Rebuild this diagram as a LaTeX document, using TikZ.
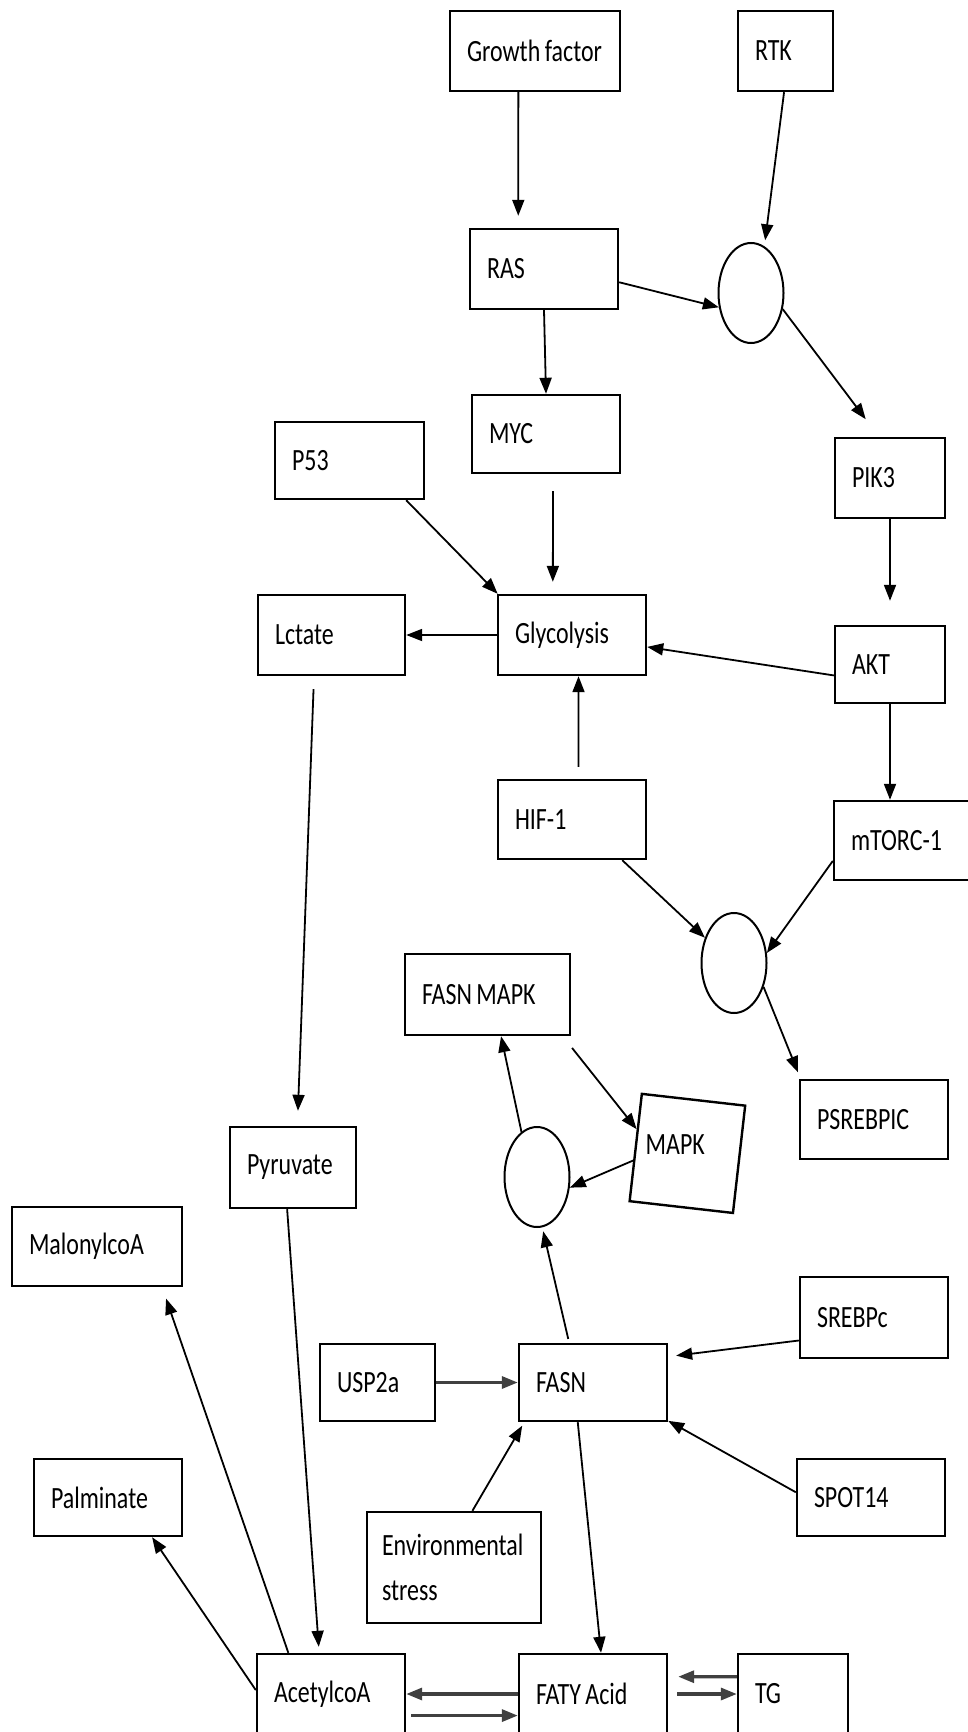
\documentclass[tikz,border=0pt]{standalone}
\usepackage{fontspec}
\setmainfont{Carlito}[FakeStretch=0.774]
\usetikzlibrary{shapes.geometric,arrows.meta}
\newcommand\boxfont{\fontsize{8.8}{12.8}\selectfont}
\newcommand\tightspace{\spaceskip=0.45mm\relax\xspaceskip=0.45mm\relax\hyphenpenalty=10000\relax}
\tikzset{
  box/.style={draw, line width=0.24mm, inner xsep=1.7mm, inner ysep=0mm, minimum height=8mm, align=left, text=black, execute at begin node=\tightspace},
  knot/.style={draw, ellipse, line width=0.2mm, minimum width=6.5mm, minimum height=10mm, inner sep=0mm},
  link/.style={line width=0.18mm},
  twin/.style={line width=0.32mm, black!75},
}

\begin{document}
\begin{tikzpicture}[>={Triangle[length=1.6mm,width=1.2mm]}, font=\boxfont]
            \fill[white] (0,0) rectangle (9.67,-17.32);
            \useasboundingbox (0,0) rectangle (9.67,-17.32);

            \node[box, text width=13.6mm] (gf) at (5.35,-0.51) {Growth factor};
            \node[box, text width=6.1mm] (rtk) at (7.855,-0.51) {RTK};
            \node[box, text width=11.4mm] (ras) at (5.44,-2.69) {RAS};
            \node[knot] (c1) at (7.51,-2.93) {};
            \node[box, text width=11.4mm, minimum height=7.8mm] (myc) at (5.46,-4.34) {MYC};
            \node[box, text width=11.5mm, minimum height=7.7mm] (p53) at (3.495,-4.605) {P53};
            \node[box, text width=7.6mm] (pik3) at (8.90,-4.78) {PIK3};

            \node[box, text width=11.3mm] (lctate) at (3.315,-6.35) {Lctate};
            \node[box, text width=11.4mm] (glyc) at (5.72,-6.35) {Glycolysis};
            \node[box, text width=7.6mm, minimum height=7.7mm] (akt) at (8.90,-6.645) {AKT};
            \node[box, text width=11.4mm, minimum height=7.9mm] (hif) at (5.72,-8.195) {HIF-1};
            \node[box, text width=11.6mm, minimum height=7.9mm] (mtorc) at (9.09,-8.405) {mTORC-1};
            \node[knot] (c2) at (7.34,-9.63) {};

            \node[box, text width=13.1mm, minimum height=8.1mm] (fasnmapk) at (4.875,-9.945) {FASN MAPK};
            \node[box, text width=11.4mm, minimum height=7.9mm] (psrebpic) at (8.74,-11.195) {PSREBPIC};
            \node[box, rotate=-6.5, minimum width=10.4mm, minimum height=10.8mm, inner sep=0mm] (mapk) at (6.874,-11.534) {};
            \node[anchor=west, inner sep=0mm, text=black] (mapktxt) at (6.45,-11.45) {MAPK};
            \node[knot] (c3) at (5.37,-11.77) {};
            \node[box, text width=9.2mm, minimum height=8.1mm] (pyruvate) at (2.93,-11.675) {Pyruvate};
            \node[box, text width=13.6mm, minimum height=7.9mm] (malonyl) at (0.97,-12.465) {MalonylcoA};

            \node[box, text width=11.4mm, minimum height=8.1mm] (srebpc) at (8.74,-13.175) {SREBPc};
            \node[box, text width=8.1mm, minimum height=7.7mm] (usp2a) at (3.775,-13.825) {USP2a};
            \node[box, text width=11.4mm, minimum height=7.7mm] (fasn) at (5.93,-13.825) {FASN};
            \node[box, text width=11.4mm, minimum height=7.7mm] (palminate) at (1.08,-14.975) {Palminate};
            \node[box, text width=11.4mm, minimum height=7.7mm] (spot14) at (8.71,-14.975) {SPOT14};
            \node[box, inner xsep=1.5mm, text width=14.4mm, minimum height=11.1mm] (env) at (4.54,-15.675) {Environmental\\stress};

            \node[box, text width=11.4mm] (acetyl) at (3.31,-16.94) {AcetylcoA};
            \node[box, text width=11.4mm] (faty) at (5.93,-16.94) {FATY Acid};
            \node[box, text width=7.6mm] (tg) at (7.93,-16.94) {TG};

            \path[->, link] (gf.-112) edge[shorten >=1.2mm] (ras.122);
            \path[->, link] (rtk.-92) edge[shorten >=0.6mm] (c1.74);
            \path[->, link] (ras.south) edge (myc.north);
            \path[->, link] (ras.-10) edge (c1.204);
            \path[->, link] (c1.-27) edge[shorten >=2.2mm] (pik3.105);

            \path[->, link] (p53.-35) edge (glyc.151);
            \path[->, link] (myc.-80) edge[shorten <=1.7mm, shorten >=1.2mm] (glyc.115);
            \path[->, link] (glyc.west) edge (lctate.east);
            \path[->, link] (akt.191) edge (glyc.-9);
            \path[->, link] (pik3.south) edge[shorten >=2.4mm] (akt.north);
            \path[->, link] (hif.81) edge[shorten <=1.2mm] (glyc.-81);
            \path[->, link] (akt.south) edge (akt.south |- mtorc.north);

            \path[->, link] (lctate.-113) edge[shorten <=1.3mm, shorten >=1.5mm] (pyruvate.84);
            \path[->, link] (hif.-39) edge (c2.139);
            \path[->, link] (mtorc.195) edge (c2.17);
            \path[->, link] (c2.-39) edge[shorten >=0.7mm] (psrebpic.151);

            \path[->, link] (c3.109) edge (fasnmapk.-72);
            \path[->, link] (fasnmapk.-29) edge[shorten <=1.5mm] (mapk.161);
            \path[->, link] (mapk.194) edge (c3.-18);
            \path[->, link] (fasn.121) edge[shorten <=0.4mm, shorten >=0.4mm] (c3.-84);

            \path[->, twin] (usp2a.east) edge (fasn.west);
            \path[->, link] (srebpc.197) edge[shorten >=0.8mm] (fasn.19);
            \path[->, link] (spot14.176) edge (fasn.-27.5);
            \path[->, link] (env.72) edge[shorten >=0.4mm] (fasn.210);
            \path[->, link] (fasn.-111) edge (faty.79);

            \path[->, link] (pyruvate.-98) edge[shorten >=0.6mm] (acetyl.106);
            \path[->, link] (acetyl.136) edge[shorten >=1.2mm] (malonyl.-32);
            \path[->, link] (acetyl.177) edge (palminate.-42);
            \path[->, twin] (faty.west) edge (acetyl.east);
            \path[->, twin] (acetyl.-16) edge[shorten <=0.5mm] (faty.196);
            \path[->, twin] (tg.163) edge[shorten >=1mm] (faty.13);
            \path[->, twin] (faty.east) edge[shorten <=0.9mm] (tg.west);

        \end{tikzpicture}
\end{document}
